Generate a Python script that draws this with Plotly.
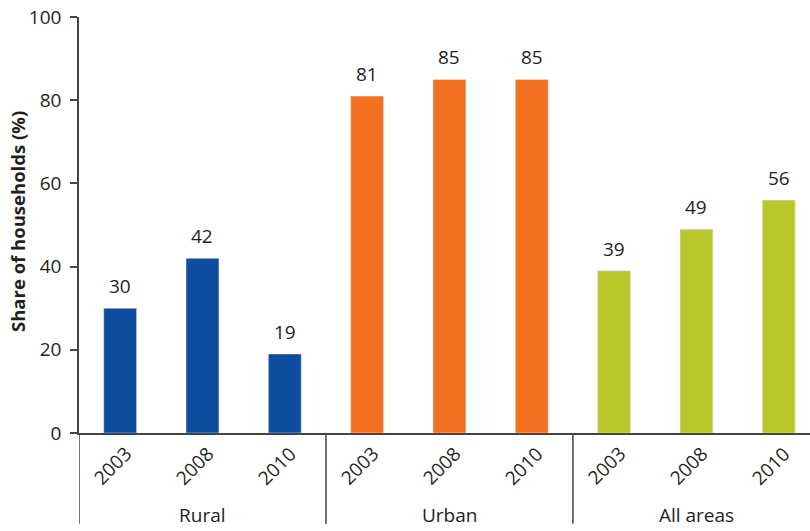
import plotly.graph_objects as go

# Share of households, by area and survey year
groups = ["Rural", "Urban", "All areas"]
years = ["2003", "2008", "2010"]
rural = [30, 42, 19]
urban = [81, 85, 85]
all_areas = [39, 49, 56]
group_colors = ["#0d4c9e", "#f37021", "#b9c72a"]

series = [rural, urban, all_areas]
text_color = "#231f20"
font_family = "Open Sans, Noto Sans, sans-serif"

fig = go.Figure()
annotations = []
pos = 0
for g, vals, col in zip(groups, series, group_colors):
    xs = list(range(pos, pos + len(vals)))
    fig.add_trace(go.Bar(x=xs, y=vals, name=g, marker_color=col, width=0.4,
                         showlegend=False))
    for x, v, yr in zip(xs, vals, years):
        # value label above the bar
        annotations.append(dict(x=x, y=v, xref="x", yref="y", text=str(v),
                                showarrow=False, yanchor="bottom", yshift=7,
                                font=dict(size=19, color=text_color, family=font_family)))
        # rotated year label below the axis
        annotations.append(dict(x=x, y=0, xref="x", yref="y", text=yr,
                                showarrow=False, textangle=-45,
                                xshift=-8, yshift=-33,
                                font=dict(size=19, color=text_color, family=font_family)))
    pos += len(vals)

n = pos
shapes = []
# short ticks at category boundaries
for i in range(n - 1):
    b = i + 0.5
    if (i + 1) % len(years) == 0:
        continue
    shapes.append(dict(type="line", xref="x", yref="y", x0=b, x1=b, y0=0, y1=-2,
                       line=dict(color="#444444", width=1.5)))
# long dividers between groups
for k in range(len(groups)):
    b = k * len(years) - 0.5
    shapes.append(dict(type="line", xref="x", yref="paper", x0=b, x1=b, y0=0, y1=-0.218,
                       line=dict(color="#444444", width=1.5)))

for k, g in enumerate(groups):
    center = k * len(years) + (len(years) - 1) / 2
    annotations.append(dict(x=center, y=-0.196, xref="x", yref="paper", text=g,
                            showarrow=False, yanchor="middle",
                            font=dict(size=19, color=text_color, family=font_family)))

# y-axis title
annotations.append(dict(x=0, y=0.5, xref="paper", yref="paper", xshift=-62, yshift=3,
                        xanchor="center", yanchor="middle",
                        text="<b>Share of households (%)</b>", textangle=-90,
                        showarrow=False,
                        font=dict(size=18.5, color=text_color, family=font_family)))

fig.update_layout(
    width=810, height=531,
    margin=dict(l=79, r=0, t=17, b=98),
    plot_bgcolor="white", paper_bgcolor="white",
    shapes=shapes, annotations=annotations,
    font=dict(family=font_family, color=text_color),
)
fig.update_xaxes(
    range=[-0.5, 8.38], showticklabels=False, ticks="",
    showline=True, linecolor="#444444", linewidth=1.5,
    showgrid=False, zeroline=False,
)
fig.update_yaxes(
    range=[0, 100], tickvals=[0, 20, 40, 60, 80, 100], ticks="outside", ticklen=7,
    tickcolor="#444444", tickwidth=1.5, showline=True, linecolor="#444444", linewidth=1.5,
    ticklabelstandoff=5,
    tickfont=dict(size=19, color=text_color), showgrid=False, zeroline=False,
)

fig.write_html("out.html")
